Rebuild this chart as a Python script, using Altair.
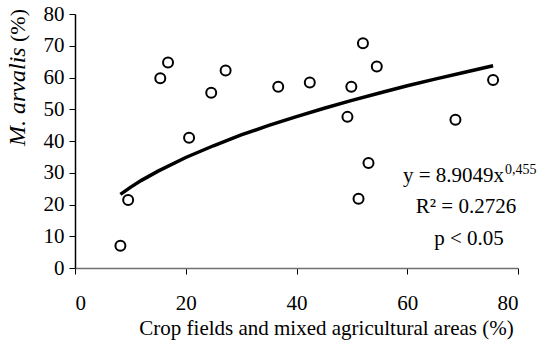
import altair as alt
import pandas as pd

FONT = "Liberation Serif"

crop_pct = [8.2, 9.6, 15.4, 16.8, 20.6, 24.6, 27.2, 36.7, 42.4, 49.2, 49.9, 51.2, 52.0, 53.0, 54.5, 68.7, 75.5]
arvalis_pct = [7.0, 21.4, 59.8, 64.7, 41.0, 55.2, 62.2, 57.1, 58.4, 47.6, 57.1, 21.8, 70.8, 33.1, 63.5, 46.7, 59.2]

# Trend line
trend_x = [8.2, 10, 12, 15, 20, 25, 30, 35, 40, 45, 50, 55, 60, 65, 70, 75.5]
trend_y = [23.2, 25.4, 27.6, 30.5, 34.8, 38.5, 41.9, 44.9, 47.7, 50.3, 52.8, 55.1, 57.4, 59.5, 61.5, 63.7]

x_ticks = [0, 20, 40, 60, 80]
y_ticks = [0, 10, 20, 30, 40, 50, 60, 70, 80]

pts = pd.DataFrame({"x": crop_pct, "y": arvalis_pct})
trend = pd.DataFrame({"x": trend_x, "y": trend_y})

xs = alt.Scale(domain=[0, 80], nice=False)
ys = alt.Scale(domain=[0, 80], nice=False)

x_axis = alt.Axis(
    values=x_ticks, tickSize=6, labelPadding=18, domainColor="#6f6f6f", domainWidth=1.5,
    tickColor="black", labelOverlap=False, title="Crop fields and mixed agricultural areas (%)",
    titleFont=FONT, titleFontSize=21, titleFontWeight="normal", titleColor="black",
    titleX=251, titleY=66, titleAlign="center", titleBaseline="alphabetic",
)
y_axis = alt.Axis(
    values=y_ticks, tickSize=6, labelPadding=5, domainColor="black", domainWidth=1.5,
    tickColor="black", labelOverlap=False, title=None,
)

line = alt.Chart(trend).mark_line(color="black", strokeWidth=3.5).encode(
    x=alt.X("x:Q", scale=xs, axis=x_axis),
    y=alt.Y("y:Q", scale=ys, axis=y_axis),
)

points = alt.Chart(pts).mark_point(
    shape="circle", filled=False, color="black", strokeWidth=2, size=100, opacity=1
).encode(
    x=alt.X("x:Q", scale=xs, axis=x_axis),
    y=alt.Y("y:Q", scale=ys, axis=y_axis),
)

def label(text, px, py, size=21, align="center", style="normal", angle=0, baseline="alphabetic"):
    kw = dict(text=text, font=FONT, fontSize=size, color="black", align=align,
              baseline=baseline, fontStyle=style)
    if angle:
        kw["angle"] = angle
    return alt.Chart(pd.DataFrame({"a": [0]})).mark_text(**kw).encode(
        x=alt.value(px - 75), y=alt.value(py - 14)
    )

annots = [
    label("y = 8.9049x", 504, 182, align="right"),
    label("0,455", 505, 174, size=14, align="left"),
    label("R\u00b2 = 0.2726", 466, 213),
    label("p < 0.05", 469, 245),
    label("M. arvalis", 25, 146, size=24, align="left", style="italic", angle=270),
    label("(%)", 25, 9, size=22, align="right", angle=270),
]

chart = alt.layer(line, points, *annots).properties(
    width=443, height=254,
    autosize=alt.AutoSizeParams(type="none"),
    padding={"left": 75, "top": 14, "right": 24, "bottom": 74},
).configure_axis(
    labelFont=FONT, labelFontSize=21, labelColor="black", grid=False, tickWidth=1,
    labelOverlap=False,
).configure_view(stroke=None)

chart.save("out.html", embed_options={"renderer": "svg", "actions": False})
